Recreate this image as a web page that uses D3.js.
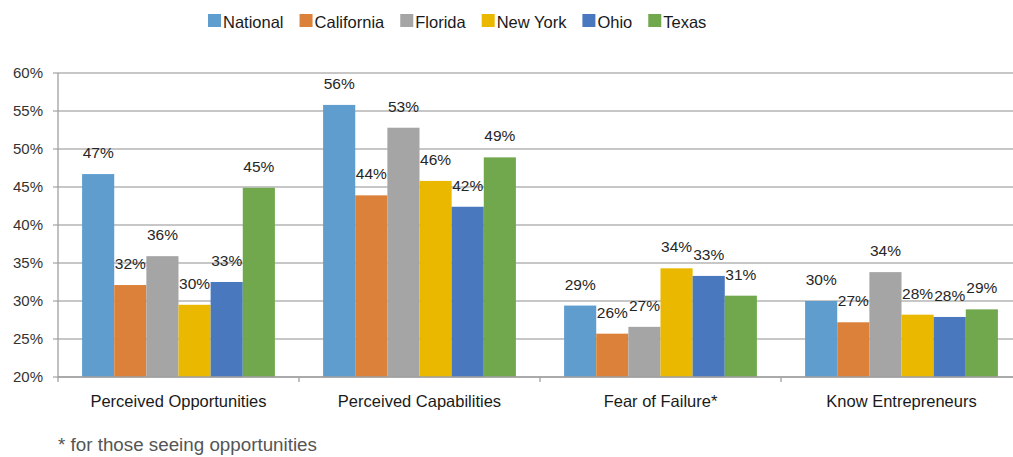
<!DOCTYPE html>
<html>
<head>
<meta charset="utf-8">
<script src="https://cdn.jsdelivr.net/npm/d3@7"></script>
<style>
  html, body { margin: 0; padding: 0; background: #fff; overflow: hidden; }
  svg { display: block; font-family: "Liberation Sans", Arial, sans-serif; }
</style>
</head>
<body>
<div id="chart"></div>
<script>
// Chart data
const categories = ['Perceived Opportunities', 'Perceived Capabilities', 'Fear of Failure*', 'Know Entrepreneurs'];
const seriesNames = ['National', 'California', 'Florida', 'New York', 'Ohio', 'Texas'];
const national   = [46.7, 55.8, 29.4, 30.0];
const california = [32.1, 43.9, 25.7, 27.2];
const florida    = [35.9, 52.8, 26.6, 33.8];
const newYork    = [29.5, 45.8, 34.3, 28.2];
const ohio       = [32.5, 42.4, 33.3, 27.9];
const texas      = [44.9, 48.9, 30.7, 28.9];
const yTicks = [20, 25, 30, 35, 40, 45, 50, 55, 60];
const footnote = '* for those seeing opportunities';

const seriesValues = [national, california, florida, newYork, ohio, texas];
const colors = ['#5f9dcf', '#dc8139', '#a5a5a5', '#ebb800', '#4a78be', '#72a84d'];

const W = 1013, H = 457;
const margin = { top: 73, left: 58, bottom: 80 };
const plotRight = 1022; // plot runs slightly past the picture edge
const plotBottom = H - margin.bottom;

const svg = d3.select('#chart').append('svg')
  .attr('width', W).attr('height', H);

const x0 = d3.scaleBand().domain(categories).range([margin.left, plotRight]);
const x1 = d3.scaleBand().domain(seriesNames)
  .range([x0.bandwidth() * 0.1, x0.bandwidth() * 0.9]);
const y = d3.scaleLinear().domain([20, 60]).range([plotBottom, margin.top]);

// Gridlines
svg.append('g')
  .selectAll('line')
  .data(yTicks)
  .join('line')
  .attr('x1', margin.left - 5).attr('x2', plotRight)
  .attr('y1', d => y(d)).attr('y2', d => y(d))
  .attr('stroke', '#b4b4b4').attr('stroke-width', 1.3);

// Y axis labels
svg.append('g')
  .selectAll('text')
  .data(yTicks)
  .join('text')
  .attr('x', margin.left - 15)
  .attr('y', d => y(d))
  .attr('dy', '0.35em')
  .attr('text-anchor', 'end')
  .attr('font-size', '15px')
  .attr('fill', '#333')
  .text(d => d + '%');

// Y axis line
svg.append('line')
  .attr('x1', margin.left).attr('x2', margin.left)
  .attr('y1', margin.top).attr('y2', plotBottom)
  .attr('stroke', '#a0a0a0').attr('stroke-width', 1.3);

// Bars
const groups = svg.append('g')
  .selectAll('g')
  .data(categories)
  .join('g')
  .attr('transform', d => `translate(${x0(d)},0)`);

groups.selectAll('rect')
  .data((c, ci) => seriesNames.map((s, si) => ({ s, si, v: seriesValues[si][ci] })))
  .join('rect')
  .attr('x', d => x1(d.s))
  .attr('width', x1.bandwidth())
  .attr('y', d => y(d.v))
  .attr('height', d => plotBottom - y(d.v))
  .attr('fill', d => colors[d.si]);

groups.selectAll('text')
  .data((c, ci) => seriesNames.map((s, si) => ({ s, si, v: seriesValues[si][ci] })))
  .join('text')
  .attr('x', d => x1(d.s) + x1.bandwidth() / 2)
  .attr('y', d => y(d.v) - 16)
  .attr('text-anchor', 'middle')
  .attr('font-size', '15.5px')
  .attr('fill', '#262626')
  .text(d => Math.round(d.v) + '%');

// X axis baseline and ticks
svg.append('line')
  .attr('x1', margin.left).attr('x2', plotRight)
  .attr('y1', plotBottom).attr('y2', plotBottom)
  .attr('stroke', '#a0a0a0').attr('stroke-width', 1.3);

svg.append('g')
  .selectAll('line')
  .data(categories.concat(['end']))
  .join('line')
  .attr('x1', (d, i) => i < categories.length ? x0(d) : plotRight)
  .attr('x2', (d, i) => i < categories.length ? x0(d) : plotRight)
  .attr('y1', plotBottom).attr('y2', plotBottom + 5)
  .attr('stroke', '#a0a0a0').attr('stroke-width', 1.3);

svg.append('g')
  .selectAll('text')
  .data(categories)
  .join('text')
  .attr('x', d => x0(d) + x0.bandwidth() / 2)
  .attr('y', plotBottom + 30)
  .attr('text-anchor', 'middle')
  .attr('font-size', '16.5px')
  .attr('fill', '#1a1a1a')
  .text(d => d);

// Legend
const legend = svg.append('g').attr('transform', 'translate(208,0)');
let lx = 0;
seriesNames.forEach((name, i) => {
  const item = legend.append('g').attr('transform', `translate(${lx},0)`);
  item.append('rect')
    .attr('x', 0).attr('y', 14)
    .attr('width', 13).attr('height', 13)
    .attr('fill', colors[i]);
  const t = item.append('text')
    .attr('x', 15).attr('y', 27.5)
    .attr('font-size', '16.5px')
    .attr('fill', '#1a1a1a')
    .text(name);
  lx += 15 + t.node().getComputedTextLength() + 16;
});

// Footnote
svg.append('text')
  .attr('x', 58).attr('y', 451)
  .attr('font-size', '18.8px')
  .attr('fill', '#555')
  .text(footnote);
</script>
</body>
</html>
